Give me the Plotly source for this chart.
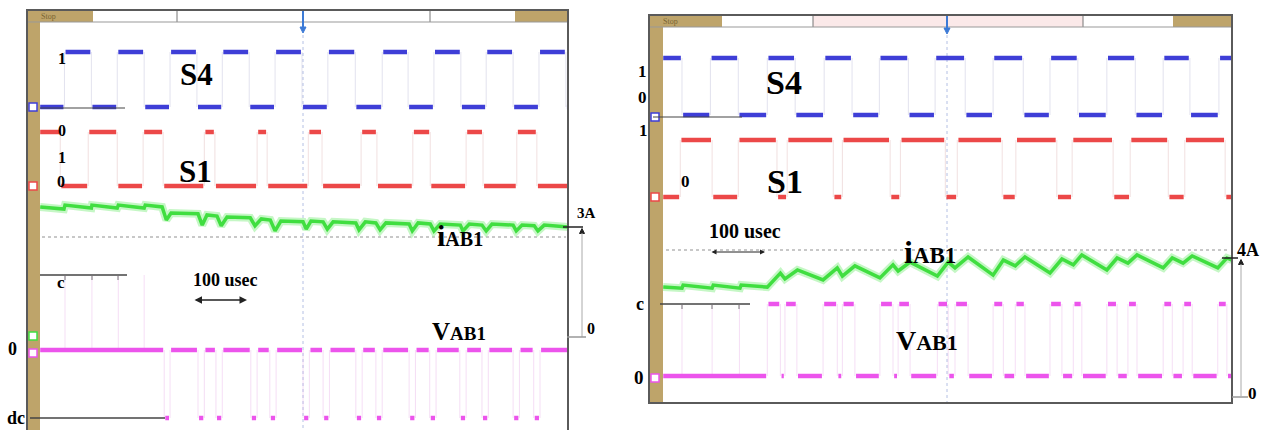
import plotly.graph_objects as go

W, H = 1271, 430

# ---------------- data (time in microseconds, current in A) ----------------
# Left capture
L_S4_INIT = 0
L_S4_EDGES = [46, 97, 146, 197, 246, 297, 345, 396, 445, 496, 545, 597, 648, 697, 746, 797, 845, 896, 945, 996]
L_S1_INIT = 1
L_S1_EDGES = [38, 91, 146, 195, 233, 311, 331, 411, 430, 508, 534, 608, 638, 706, 739, 807, 839, 903, 941]
L_V_LEVEL = -1            # pulses to -Vdc
L_V_START = [235, 299, 333, 399, 435, 498, 536, 598, 636, 699, 738, 795, 837, 896, 935]
L_V_END = [246, 311, 345, 411, 447, 510, 548, 610, 648, 711, 750, 807, 849, 908, 947]
L_V_SPIKES = [47, 98, 148, 197]
L_I_T = [0, 45, 47, 97, 98, 146, 148, 197, 199, 231, 239, 248, 299, 307, 316, 335, 343, 354, 398, 407,
         419, 436, 445, 456, 498, 504, 513, 536, 544, 555, 598, 604, 616, 636, 644, 655, 699, 705, 716, 739,
         746, 758, 796, 801, 813, 837, 845, 856, 896, 902, 913, 936, 943, 955, 1000]
L_I_A = [3.58, 3.52, 3.63, 3.55, 3.63, 3.55, 3.63, 3.55, 3.63, 3.58, 3.22, 3.41, 3.39, 3.08, 3.36, 3.33, 3.06, 3.30, 3.28, 3.06,
         3.25, 3.22, 2.92, 3.19, 3.17, 2.97, 3.19, 3.17, 2.97, 3.17, 3.14, 2.95, 3.17, 3.14, 2.95, 3.14, 3.11, 2.92, 3.14, 3.11,
         2.92, 3.11, 3.08, 2.92, 3.11, 3.08, 2.92, 3.11, 3.08, 2.92, 3.08, 3.06, 2.92, 3.08, 3.03]
L_I_REF = 3   # "3A"

# Right capture
R_S4_INIT = 1
R_S4_EDGES = [33, 83, 132, 183, 232, 283, 332, 380, 431, 478, 531, 580, 633, 680, 729, 780, 830, 879, 926, 977]
R_S1_INIT = 0
R_S1_EDGES = [30, 86, 132, 200, 218, 299, 315, 399, 417, 496, 517, 596, 620, 692, 719, 791, 821, 888, 917, 988]
R_V_LEVEL = 1             # pulses to +c
R_V_START = [183, 214, 281, 315, 381, 413, 482, 513, 580, 619, 680, 721, 780, 817, 879, 914, 975]
R_V_END = [206, 235, 306, 337, 404, 434, 501, 536, 598, 636, 701, 736, 798, 833, 895, 930, 991]
R_V_SPIKES = [33, 86, 134]
R_I_T = [0, 33, 35, 86, 88, 135, 137, 183, 206, 214, 236, 281, 306, 315, 337, 381, 404, 413, 434, 482,
         501, 513, 536, 580, 598, 619, 636, 680, 701, 721, 736, 780, 798, 817, 833, 879, 895, 914, 930, 975,
         991, 1000]
R_I_A = [3.15, 3.12, 3.21, 3.12, 3.21, 3.12, 3.21, 3.15, 3.56, 3.39, 3.65, 3.36, 3.71, 3.47, 3.77, 3.42, 3.80, 3.62, 3.88, 3.47,
         3.88, 3.71, 4.03, 3.50, 3.94, 3.77, 4.03, 3.56, 3.97, 3.80, 4.09, 3.65, 4.00, 3.85, 4.09, 3.71, 4.00, 3.85, 4.06, 3.71,
         4.00, 3.94]
R_I_REF = 4   # "4A"

T0, T1 = 0, 1000

# ---------------- style / geometry (screen pixel rows) ----------------
BLUE = "rgb(62,62,215)"
RED = "rgb(236,72,72)"
GREEN = "rgb(64,222,64)"
MAG = "rgb(236,84,236)"
TAN = "#bea46a"
FRAME = "#5a5a5a"
FONT = "Liberation Serif"

LEFT = dict(bottom=430, rows=dict(s4_lo=107, s4_hi=52, s1_lo=186, s1_hi=132, i_zero=337, i_ref=228,
                                   v_zero=350, v_pulse=418, v_c=275))
RIGHT = dict(bottom=403, rows=dict(s4_lo=115, s4_hi=58, s1_lo=197, s1_hi=140, i_zero=395, i_ref=258,
                                    v_zero=376, v_pulse=304, v_c=304))


def yconv(panel, row):
    return (panel["bottom"] - row) / 10.0


def segs_from_edges(edges, init):
    pts = [T0] + edges + [T1]
    out, s = [], init
    for a, b in zip(pts[:-1], pts[1:]):
        out.append((a, b, s))
        s = 1 - s
    return out


def segs_from_pulses(starts, ends):
    out, cur = [], T0
    for a, b in zip(starts, ends):
        out.append((cur, a, 0))
        out.append((a, b, 1))
        cur = b
    out.append((cur, T1, 0))
    return out


def thick(segs, lv, inset):
    xs, ys = [], []
    for a, b, s in segs:
        a2 = a + (inset if a > T0 else 0)
        b2 = b - (inset if b < T1 else 0)
        if b2 <= a2:
            continue
        xs += [a2, b2, None]
        ys += [lv[s], lv[s], None]
    return xs, ys


def thin(times, y0, y1):
    xs, ys = [], []
    for t in times:
        xs += [t, t, None]
        ys += [y0, y1, None]
    return xs, ys


fig = go.Figure()


def add_panel(panel, xa, ya, s4e, s4i, s1e, s1i, vs, ve, vlev, spikes, it, ia, iref):
    r = panel["rows"]
    Y = lambda k: yconv(panel, r[k])
    # S4
    lv = {0: Y("s4_lo"), 1: Y("s4_hi")}
    x, y = thin(s4e, lv[0], lv[1])
    fig.add_trace(go.Scatter(x=x, y=y, mode="lines", line=dict(color="rgba(160,160,200,0.3)", width=1),
                             xaxis=xa, yaxis=ya, hoverinfo="skip"))
    x, y = thick(segs_from_edges(s4e, s4i), lv, 2)
    fig.add_trace(go.Scatter(x=x, y=y, mode="lines", line=dict(color=BLUE, width=4.5),
                             xaxis=xa, yaxis=ya, name="S4"))
    # S1
    lv = {0: Y("s1_lo"), 1: Y("s1_hi")}
    x, y = thin(s1e, lv[0], lv[1])
    fig.add_trace(go.Scatter(x=x, y=y, mode="lines", line=dict(color="rgba(215,165,165,0.35)", width=1),
                             xaxis=xa, yaxis=ya, hoverinfo="skip"))
    x, y = thick(segs_from_edges(s1e, s1i), lv, 2)
    fig.add_trace(go.Scatter(x=x, y=y, mode="lines", line=dict(color=RED, width=4.5),
                             xaxis=xa, yaxis=ya, name="S1"))
    # VAB1
    vz, vp = Y("v_zero"), Y("v_pulse")
    x, y = thin(vs + ve, vz, vp)
    x2, y2 = thin(spikes, vz, Y("v_c"))
    fig.add_trace(go.Scatter(x=x + x2, y=y + y2, mode="lines", line=dict(color="rgba(225,160,225,0.35)", width=1),
                             xaxis=xa, yaxis=ya, hoverinfo="skip"))
    x, y = thick(segs_from_pulses(vs, ve), {0: vz, 1: vp}, 2)
    fig.add_trace(go.Scatter(x=x, y=y, mode="lines", line=dict(color=MAG, width=4.5),
                             xaxis=xa, yaxis=ya, name="VAB1"))
    # iAB1
    iz = Y("i_zero")
    gain = (Y("i_ref") - iz) / iref
    yy = [iz + gain * v for v in ia]
    fig.add_trace(go.Scatter(x=it, y=yy, mode="lines", line=dict(color="rgba(140,240,140,0.5)", width=8),
                             xaxis=xa, yaxis=ya, hoverinfo="skip"))
    fig.add_trace(go.Scatter(x=it, y=yy, mode="lines", line=dict(color=GREEN, width=3.5),
                             xaxis=xa, yaxis=ya, name="iAB1"))


add_panel(LEFT, "x", "y", L_S4_EDGES, L_S4_INIT, L_S1_EDGES, L_S1_INIT, L_V_START, L_V_END, L_V_LEVEL,
          L_V_SPIKES, L_I_T, L_I_A, L_I_REF)
add_panel(RIGHT, "x2", "y2", R_S4_EDGES, R_S4_INIT, R_S1_EDGES, R_S1_INIT, R_V_START, R_V_END, R_V_LEVEL,
          R_V_SPIKES, R_I_T, R_I_A, R_I_REF)

# ---------------- decorations (paper coordinates from screen pixels) ----------------
px = lambda v: v / W
py = lambda v: 1 - v / H
shapes = []


def rect(x0, y0, x1, y1, fill, line=None, lw=0):
    shapes.append(dict(type="rect", xref="paper", yref="paper", x0=px(x0), x1=px(x1), y0=py(y1), y1=py(y0),
                       fillcolor=fill, line=dict(color=line or fill, width=lw), layer="below"))


def line(x0, y0, x1, y1, color, w=1, dash=None, layer="above"):
    shapes.append(dict(type="line", xref="paper", yref="paper", x0=px(x0), x1=px(x1), y0=py(y0), y1=py(y1),
                       line=dict(color=color, width=w, dash=dash), layer=layer))


def tri(x, y, up, color, s=3):
    if up:
        p = f"M {px(x - s)} {py(y + s)} L {px(x + s)} {py(y + s)} L {px(x)} {py(y - s)} Z"
    else:
        p = f"M {px(x - s)} {py(y - s)} L {px(x + s)} {py(y - s)} L {px(x)} {py(y + s)} Z"
    shapes.append(dict(type="path", xref="paper", yref="paper", path=p, fillcolor=color,
                       line=dict(color=color, width=1)))


# left frame
rect(27, 22, 40, 432, TAN)
rect(27, 10, 568, 22, "white")
rect(27, 10, 93, 22, TAN)
rect(515, 10, 568, 22, TAN)
line(177, 10, 177, 22, "#777")
line(430, 10, 430, 22, "#777")
line(27, 22, 568, 22, "#999")
shapes.append(dict(type="rect", xref="paper", yref="paper", x0=px(27), x1=px(568), y0=py(433), y1=py(10),
                   line=dict(color=FRAME, width=2), fillcolor="rgba(0,0,0,0)"))
# right frame
rect(649, 27, 663, 403, TAN)
rect(649, 15, 1232, 27, "white")
rect(649, 15, 722, 27, TAN)
rect(813, 15, 1083, 27, "#fbe9e9")
rect(1173, 15, 1232, 27, TAN)
line(813, 15, 813, 27, "#777")
line(1083, 15, 1083, 27, "#777")
line(649, 27, 1232, 27, "#999")
shapes.append(dict(type="rect", xref="paper", yref="paper", x0=px(649), x1=px(1232), y0=py(403), y1=py(15),
                   line=dict(color=FRAME, width=2), fillcolor="rgba(0,0,0,0)"))

# dotted reference lines and trigger lines
line(42, 237, 566, 237, "rgba(150,150,150,0.7)", 1.5, "dot", "below")
line(666, 250, 1230, 250, "rgba(150,150,150,0.7)", 1.5, "dot", "below")
line(303, 35, 303, 430, "rgba(130,150,210,0.6)", 1, "dot", "below")
line(947, 35, 947, 402, "rgba(130,150,210,0.6)", 1, "dot", "below")
# trigger markers
line(303, 11, 303, 28, "#3c7ad6", 2)
tri(303, 30, False, "#3c7ad6", 3)
line(947, 16, 947, 30, "#3c7ad6", 2)
tri(947, 31, False, "#3c7ad6", 3)

# channel reference lines
line(40, 108, 125, 108, "#444", 1.2)
line(40, 275, 127, 275, "#444", 1.5)
for xx in (65, 92, 118):
    line(xx, 275, xx, 280, "#777", 1)
line(30, 418, 165, 418, "#444", 1.5)
line(653, 117, 742, 117, "#444", 1.2)
line(660, 304, 750, 304, "#444", 1.5)
for xx in (682, 712, 739):
    line(xx, 304, xx, 309, "#777", 1)

# left edge channel markers
for (yy, col) in [(107, BLUE), (186, RED), (336, GREEN), (353, MAG)]:
    rect(29, yy - 4, 37, yy + 4, "white", col, 1.5)
for (yy, col) in [(117, BLUE), (197, RED), (378, MAG)]:
    rect(651, yy - 4, 659, yy + 4, "white", col, 1.5)

# current scale bars
line(563, 227, 583, 227, "#222", 1.5)
tri(582, 231, True, "#222", 2.5)
line(582, 233, 582, 337, "#aaa", 1)
line(567, 337, 586, 337, "#999", 1.5)
line(1222, 258, 1238, 258, "#222", 1.5)
tri(1241, 262, True, "#222", 2.5)
line(1241, 264, 1241, 396, "#aaa", 1)
line(1232, 397, 1248, 397, "#999", 1.5)

# ---------------- text ----------------
ann = []


def text(t, x, y, size, color="black", bold=True):
    ann.append(dict(text=f"<b>{t}</b>" if bold else t, x=px(x), y=py(y), xref="paper", yref="paper",
                    showarrow=False, xanchor="center", yanchor="middle",
                    font=dict(family=FONT, size=size, color=color)))


def arrow2(x0, x1, y, w=1.5):
    ann.append(dict(text="", x=px(x1), y=py(y), ax=-(x1 - x0), ay=0, xref="paper", yref="paper",
                    axref="pixel", ayref="pixel", showarrow=True, arrowhead=2, arrowside="end+start",
                    arrowsize=1, arrowwidth=w, arrowcolor="#222", standoff=0, startstandoff=0))


text("Stop", 48, 16, 8, "#7a6432", False)
text("Stop", 670, 21, 8, "#7a6432", False)

text("S4", 196, 74, 31)
text("S1", 195, 171, 31)
text("1", 62, 58, 16)
text("0", 62, 130, 16)
text("1", 62, 157, 16)
text("0", 61, 181, 16)
text("c", 61, 282, 17)
text("0", 12, 349, 18)
text("dc", 16, 418, 18)
text("100 usec", 225, 280, 18)
arrow2(193, 247, 300)
text("<span style='font-size:30px'>i</span>AB1", 460, 235, 20)
text("<span style='font-size:25px'>V</span>AB1", 459, 331, 19)
text("3A", 586, 213, 15)
text("0", 591, 328, 16)

text("S4", 784, 82, 34)
text("S1", 785, 182, 34)
text("1", 642, 72, 17)
text("0", 642, 98, 17)
text("1", 643, 130, 17)
text("0", 686, 181, 17)
text("c", 640, 304, 18)
text("0", 639, 377, 19)
text("100 usec", 745, 231, 20)
arrow2(710, 765, 252, 1)
text("<span style='font-size:32px'>i</span>AB1", 930, 252, 23)
text("<span style='font-size:28px'>V</span>AB1", 927, 340, 22)
text("4A", 1248, 250, 18)
text("0", 1252, 393, 17)

ax_common = dict(visible=False, showgrid=False, zeroline=False, fixedrange=True)
fig.update_layout(
    width=W, height=H, margin=dict(l=0, r=0, t=0, b=0),
    paper_bgcolor="white", plot_bgcolor="white", showlegend=False,
    xaxis=dict(domain=[px(27), px(568)], range=[-25, 1000], anchor="y", **ax_common),
    yaxis=dict(domain=[0, py(10)], range=[0, 42], anchor="x", **ax_common),
    xaxis2=dict(domain=[px(649), px(1232)], range=[-25, 1000], anchor="y2", **ax_common),
    yaxis2=dict(domain=[py(403), py(15)], range=[0, 38.8], anchor="x2", **ax_common),
    shapes=shapes, annotations=ann,
)

fig.write_html("out.html", config={"displayModeBar": False},
               post_script="document.body.style.margin='0';document.body.style.overflow='hidden';")
